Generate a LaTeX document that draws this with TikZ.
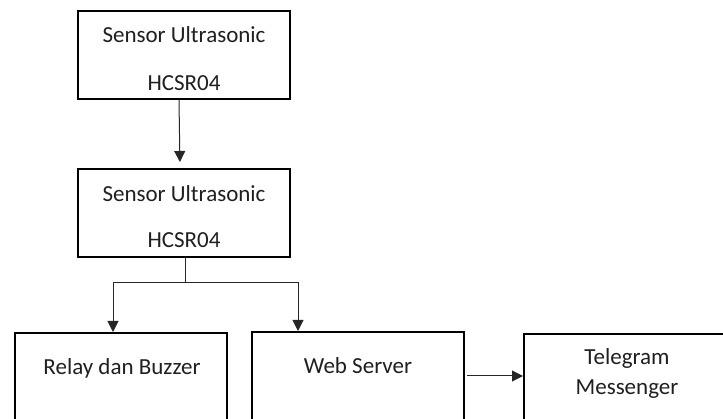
\documentclass[tikz,border=0pt]{standalone}
\usepackage{fontspec}
\setmainfont{Carlito}
\usetikzlibrary{arrows.meta}
\begin{document}
\begin{tikzpicture}[x=1pt,y=-1pt,
  block/.style={draw=black, line width=2pt, minimum width=212pt, inner sep=0pt},
  label/.style={anchor=base, inner sep=0pt, text=black!88, font=\fontsize{23}{28}\selectfont},
  link/.style={draw=black!85, line width=1pt},
  flow/.style={link, -{Triangle[width=11pt,length=11pt]}}]
\useasboundingbox (0,0) rectangle (723,419);
\clip (0,0) rectangle (723,419);

% sensor blocks
\node[block, minimum height=88pt] (s1) at (183.5,55) {};
\node[label] (s1a) at (184,43) {Sensor Ultrasonic};
\node[label] (s1b) at (184,91) {HCSR04};

\node[block, minimum height=88pt] (s2) at (184,213) {};
\node[label] (s2a) at (184,202) {Sensor Ultrasonic};
\node[label] (s2b) at (184,248) {HCSR04};

% output blocks (run past the lower edge)
\node[block, minimum height=130pt, anchor=north west] (relay) at (14,332) {};
\node[label] (relayt) at (122,375) {Relay dan Buzzer};

\node[block, minimum height=130pt, anchor=north west] (web) at (251,331) {};
\node[label] (webt) at (358,374) {Web Server};

\node[block, minimum width=230pt, minimum height=130pt, anchor=north west] (tg) at (523,333) {};
\node[label] (tga) at (627,365) {Telegram};
\node[label] (tgb) at (627,395) {Messenger};

% connectors
\draw[flow, shorten >=6pt] ([xshift=-4.5pt]s1.south) -- ([xshift=-4pt]s2.north);

\coordinate (split) at ([xshift=1pt]s2.south |- 0,283);
\coordinate (lft) at (113,283);
\coordinate (rgt) at (298,283);
\draw[link] ([xshift=1pt]s2.south) -- (split);
\draw[flow] (split) -- (lft) -- (lft |- relay.north);
\draw[flow] (split) -- (rgt) -- (rgt |- web.north);

\coordinate (wout) at (467,376);
\draw[flow] (wout) -- (wout -| tg.west);
\end{tikzpicture}
\end{document}
